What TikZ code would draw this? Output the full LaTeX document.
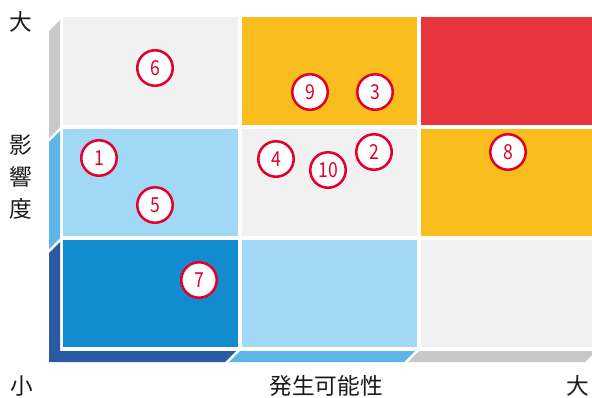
\documentclass[tikz,border=0pt]{standalone}
\usepackage{fontspec}
\setmainfont{Noto Sans CJK JP}
\newfontfamily\numfont[FakeStretch=0.85]{Noto Sans CJK JP}
\definecolor{cellgray}{HTML}{F1F1F1}
\definecolor{cellyellow}{HTML}{F9BE1E}
\definecolor{cellred}{HTML}{E8353E}
\definecolor{celllight}{HTML}{A0D8F5}
\definecolor{celldark}{HTML}{128CCF}
\definecolor{panelgray}{HTML}{C8C8C8}
\definecolor{panelblue}{HTML}{5DB6E8}
\definecolor{paneldark}{HTML}{2B5AA5}
\definecolor{riskred}{HTML}{E4002B}
\definecolor{labelblack}{HTML}{1A1A1A}
\begin{document}
\begin{tikzpicture}[x=0.75pt,y=-0.75pt,
  risk/.style={circle, draw=riskred, line width=1.9pt, fill=white,
    minimum size=26.6pt, inner sep=0pt, text=riskred,
    font=\numfont\fontsize{15.5}{15.5}\selectfont},
  lbl/.style={text=labelblack, inner sep=0pt,
    font=\fontsize{17}{18}\selectfont}]
\useasboundingbox (0,0) rectangle (592,397);
\fill[white] (0,0) rectangle (592,397);
% side panels (3D effect)
\fill[panelgray] (60,20) -- (60,127) -- (49,138) -- (49,31) -- cycle;
\fill[panelblue] (60,131) -- (60,238) -- (49,249) -- (49,142) -- cycle;
\fill[paneldark] (60,242) -- (60,351) -- (236,351) -- (225,362) -- (49,362) -- (49,253) -- cycle;
\fill[panelblue] (240,351) -- (415,351) -- (404,362) -- (229,362) -- cycle;
\fill[panelgray] (419,351) -- (596,351) -- (585,362) -- (408,362) -- cycle;
% cells, row 1 (top)
\fill[cellgray]   (63,17) rectangle (238,124.5);
\fill[cellyellow] (242,17) rectangle (417,124.5);
\fill[cellred]    (421,17) rectangle (596,124.5);
% row 2
\fill[celllight]  (63,128.5) rectangle (238,236);
\fill[cellgray]   (242,128.5) rectangle (417,236);
\fill[cellyellow] (421,128.5) rectangle (596,236);
% row 3
\fill[celldark]   (63,240) rectangle (238,347);
\fill[celllight]  (242,240) rectangle (417,347);
\fill[cellgray]   (421,240) rectangle (596,347);
% risks
\node[risk] (r6) at (155,68) {6};
\node[risk] (r9) at (310,92) {9};
\node[risk] (r3) at (375,92) {3};
\node[risk] (r1) at (99,158) {1};
\node[risk] (r4) at (276,159) {4};
\node[risk] (r10) at (328,170) {10};
\node[risk] (r2) at (374,152) {2};
\node[risk] (r8) at (508,152) {8};
\node[risk] (r5) at (155,205) {5};
\node[risk] (r7) at (199,280) {7};
% labels
\node[lbl] (ybig) at (21,22) {大};
\node[lbl, align=center, font=\fontsize{17}{24}\selectfont] (ylab) at (21,177) {影\\響\\度};
\node[lbl] (xsmall) at (22,386) {小};
\node[lbl] (xlab) at (326,386) {発生可能性};
\node[lbl] (xbig) at (578,386) {大};
\end{tikzpicture}
\end{document}
